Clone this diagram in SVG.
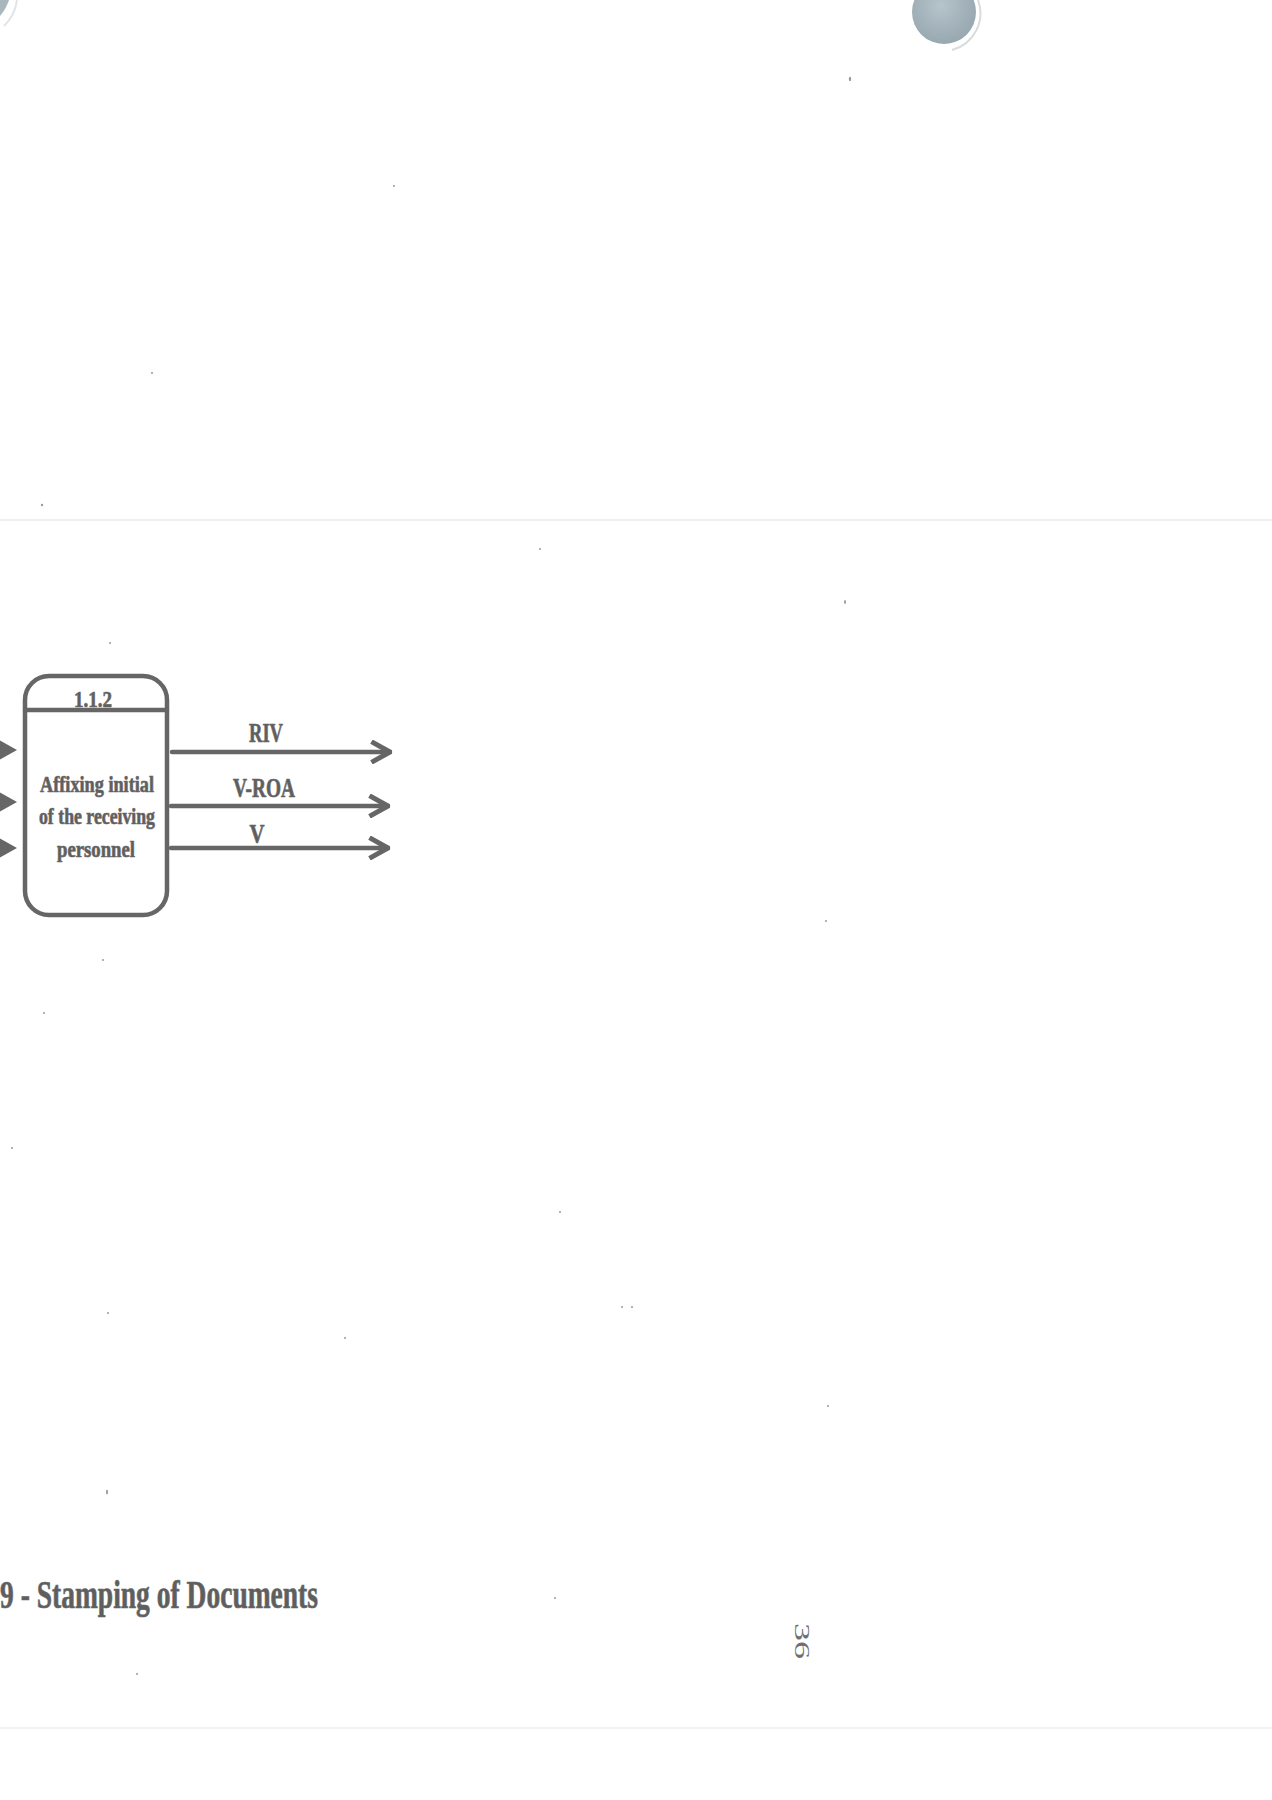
<svg xmlns="http://www.w3.org/2000/svg" width="1272" height="1800" viewBox="0 0 1272 1800">
<defs>
<style>
.ink{fill:none;stroke:#666666;stroke-width:4.5;stroke-linecap:round;stroke-linejoin:round}
.lbl{font-family:"Liberation Serif","DejaVu Serif",serif;font-weight:bold;fill:#5e5e5e;stroke:#6a6a6a;stroke-width:0.7}
.speck{fill:#9a9a9a}
</style>
<marker id="head" viewBox="0 0 12 12" refX="11" refY="6" markerWidth="5.5" markerHeight="5.5" markerUnits="strokeWidth" orient="auto">
<path d="M2,1 L11,6 L2,11" fill="none" stroke="#666666" stroke-width="2.4" stroke-linejoin="miter"/>
</marker>
<radialGradient id="hole" cx="0.45" cy="0.4" r="0.6">
<stop offset="0" stop-color="#b6c4cb"/>
<stop offset="1" stop-color="#98a8b0"/>
</radialGradient>
</defs>
<rect width="1272" height="1800" fill="#ffffff"/>

<!-- punched hole and scan artifacts -->
<circle cx="944" cy="12" r="32" fill="url(#hole)"/>
<path d="M978,0 A38,38 0 0 1 952,50" fill="none" stroke="#d8dcde" stroke-width="2"/>
<path d="M0,16 Q6,9 9,0 L0,0 Z" fill="#a9b6bc"/>
<path d="M17,0 Q15,15 4,26" fill="none" stroke="#e2e5e6" stroke-width="2"/>
<line x1="0" y1="520" x2="1272" y2="520" stroke="#f0f0f0" stroke-width="2"/>
<line x1="0" y1="1728" x2="1272" y2="1728" stroke="#f2f2f2" stroke-width="2"/>
<g id="specks">
<ellipse class="speck" cx="850" cy="79" rx="1.2" ry="2.2"/>
<circle class="speck" cx="394" cy="186" r="1"/>
<circle class="speck" cx="152" cy="373" r="1"/>
<circle class="speck" cx="42" cy="505" r="1.2"/>
<circle class="speck" cx="540" cy="549" r="1"/>
<ellipse class="speck" cx="845" cy="602" rx="1" ry="2"/>
<circle class="speck" cx="110" cy="643" r="1"/>
<circle class="speck" cx="103" cy="960" r="1"/>
<circle class="speck" cx="44" cy="1013" r="1"/>
<circle class="speck" cx="826" cy="921" r="1"/>
<circle class="speck" cx="560" cy="1212" r="1"/>
<circle class="speck" cx="622" cy="1307" r="1"/>
<circle class="speck" cx="632" cy="1307" r="1"/>
<circle class="speck" cx="345" cy="1338" r="1"/>
<circle class="speck" cx="108" cy="1313" r="1"/>
<circle class="speck" cx="828" cy="1406" r="1"/>
<ellipse class="speck" cx="107" cy="1492" rx="1" ry="2.5"/>
<circle class="speck" cx="137" cy="1674" r="1"/>
<circle class="speck" cx="555" cy="1598" r="1"/>
<circle class="speck" cx="12" cy="1148" r="1"/>
</g>

<!-- process node -->
<g id="node-1-1-2">
<rect class="ink" x="25" y="676" width="142" height="239" rx="24" ry="24"/>
<line class="ink" x1="25" y1="710" x2="167" y2="710"/>
<text class="lbl" x="93" y="707" font-size="24" text-anchor="middle" textLength="38" lengthAdjust="spacingAndGlyphs">1.1.2</text>
<text class="lbl" x="97" y="792" font-size="23" text-anchor="middle" textLength="114" lengthAdjust="spacingAndGlyphs">Affixing initial</text>
<text class="lbl" x="97" y="824" font-size="23" text-anchor="middle" textLength="116" lengthAdjust="spacingAndGlyphs">of the receiving</text>
<text class="lbl" x="96" y="857" font-size="23" text-anchor="middle" textLength="78" lengthAdjust="spacingAndGlyphs">personnel</text>
</g>

<!-- connectors -->
<g id="connectors">
<path d="M-6,737 L17,750 L-6,763 Z" fill="#666666"/>
<path d="M-6,789 L17,802 L-6,815 Z" fill="#666666"/>
<path d="M-6,835 L17,848 L-6,861 Z" fill="#666666"/>
<line class="ink" x1="172" y1="752" x2="390" y2="752" marker-end="url(#head)"/>
<line class="ink" x1="171" y1="806" x2="388" y2="806" marker-end="url(#head)"/>
<line class="ink" x1="171" y1="848" x2="388" y2="848" marker-end="url(#head)"/>
<text class="lbl" x="266" y="742" font-size="27" text-anchor="middle" textLength="34" lengthAdjust="spacingAndGlyphs">RIV</text>
<text class="lbl" x="264" y="797" font-size="27" text-anchor="middle" textLength="62" lengthAdjust="spacingAndGlyphs">V-ROA</text>
<text class="lbl" x="257" y="843" font-size="27" text-anchor="middle" textLength="15" lengthAdjust="spacingAndGlyphs">V</text>
</g>

<!-- caption and page number -->
<text class="lbl" x="0" y="1608" font-size="40" textLength="318" lengthAdjust="spacingAndGlyphs">9 - Stamping of Documents</text>
<text transform="translate(795,1623) rotate(90)" x="0" y="0" font-family="Liberation Serif, DejaVu Serif, serif" font-size="20" fill="#6f6f6f" textLength="36" lengthAdjust="spacingAndGlyphs">36</text>
</svg>
